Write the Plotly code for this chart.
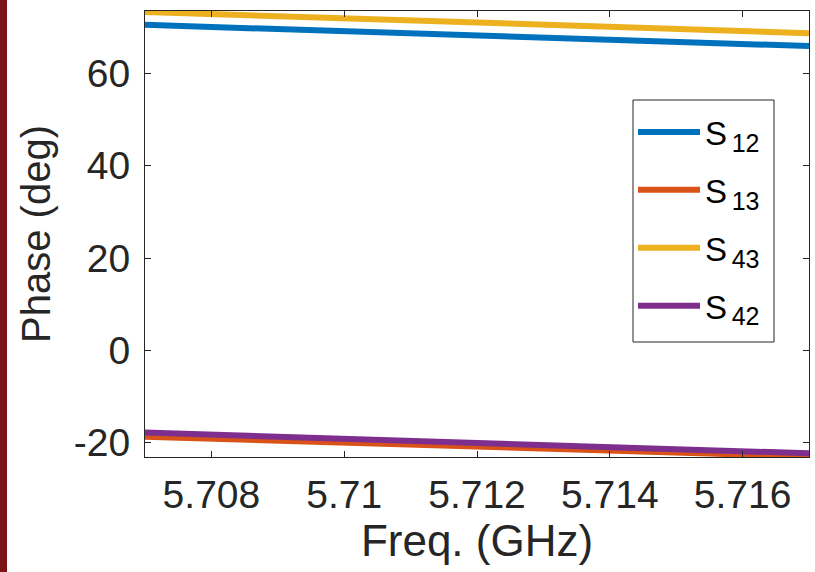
import plotly.graph_objects as go

freq = [5.707, 5.712, 5.717]
s12 = [70.5, 68.2, 65.9]
s13 = [-18.7, -20.9, -23.0]
s43 = [73.3, 71.0, 68.7]
s42 = [-17.8, -20.1, -22.3]

subs = ["12", "13", "43", "42"]
names = ["S<sub>\u2009<span style='font-size:25px'>%s</span></sub>" % s for s in subs]
colors = ["#0072BD", "#D95319", "#EDB120", "#7E2F8E"]
series = [s12, s13, s43, s42]

xticks = [5.708, 5.710, 5.712, 5.714, 5.716]
xticklabels = ["5.708", "5.71", "5.712", "5.714", "5.716"]
yticks = [-20, 0, 20, 40, 60]
yticklabels = ["-20", "0", "20", "40", "60"]

FONT = "Liberation Sans, Arial, sans-serif"
TXT = "#262626"

W, H = 815, 572
L, R, T, B = 145, 6, 11, 115
PW, PH = W - L - R, H - T - B

def px(x):
    return (x - L) / PW

def py(y):
    return (H - B - y) / PH

fig = go.Figure()
for i, (name, col, ys) in enumerate(zip(names, colors, series)):
    fig.add_trace(go.Scatter(x=freq, y=ys, mode="lines", name=name,
                             legendgroup="g%d" % i,
                             line=dict(color=col, width=6)))

axis_common = dict(showline=True, linecolor=TXT, linewidth=1, mirror="ticks",
                   ticks="inside", ticklen=6, tickcolor=TXT, showgrid=False,
                   zeroline=False, automargin=False,
                   tickfont=dict(family=FONT, size=39, color=TXT))

fig.update_layout(
    width=W, height=H,
    margin=dict(l=L, r=R, t=T, b=B),
    paper_bgcolor="white", plot_bgcolor="white",
    font=dict(family=FONT, color=TXT),
    xaxis=dict(range=[5.707, 5.717], tickvals=xticks, ticktext=xticklabels,
               ticklabelstandoff=3,
               title=dict(text="Freq. (GHz)", font=dict(family=FONT, size=44, color=TXT), standoff=2),
               **axis_common),
    yaxis=dict(range=[-23.1, 73.5], tickvals=yticks, ticktext=yticklabels,
               ticklabelstandoff=6,
               title=dict(text="Phase (deg)", font=dict(family=FONT, size=40, color=TXT), standoff=10),
               **axis_common),
    legend=dict(x=px(633), y=py(104), xanchor="left", yanchor="top",
                bgcolor="rgba(0,0,0,0)", borderwidth=0,
                font=dict(family=FONT, size=33, color="black"),
                itemwidth=62, tracegroupgap=12),
    showlegend=True,
    shapes=[
        dict(type="rect", xref="paper", yref="paper",
             x0=px(0), x1=px(7), y0=py(H), y1=py(0),
             fillcolor="#7B1515", line=dict(width=0), layer="above"),
        dict(type="rect", xref="paper", yref="paper",
             x0=px(633), x1=px(774), y0=py(342), y1=py(100),
             fillcolor="white", line=dict(color=TXT, width=1), layer="above"),
    ],
)

fig.write_html("out.html", config={"displayModeBar": False},
               post_script="document.body.style.margin='0';document.body.style.padding='0';")
